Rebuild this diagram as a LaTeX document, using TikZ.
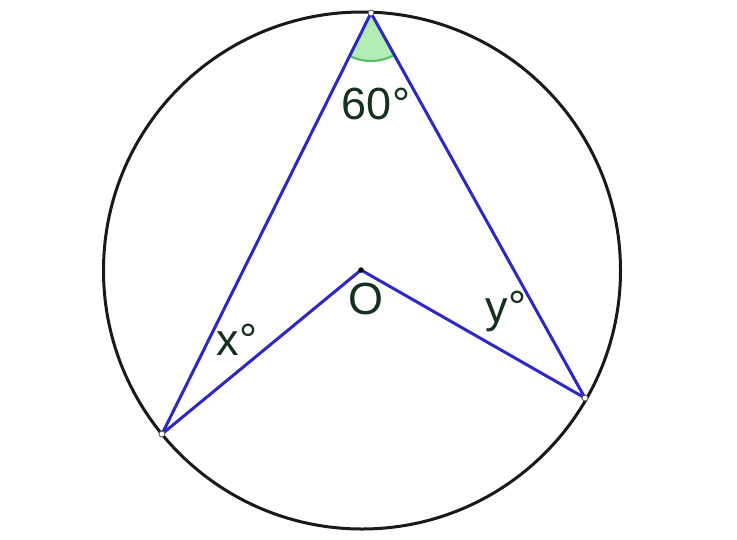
\documentclass[tikz,border=0pt]{standalone}
\usepackage{fontspec}
\setmainfont{Liberation Sans}
\definecolor{lineblue}{RGB}{45,40,195}
\definecolor{txtcol}{RGB}{22,48,30}
\definecolor{angfill}{RGB}{178,236,180}
\definecolor{angline}{RGB}{90,190,100}
\begin{document}
\begin{tikzpicture}[x=1pt,y=-1pt,
  seg/.style={draw=lineblue,line width=3pt},
  lbl/.style={text=txtcol,font=\fontsize{45}{50}\selectfont,inner sep=0pt},
  ptw/.style={circle,draw=black!70,fill=white,line width=0.8pt,inner sep=0pt,minimum size=6pt},
  ptb/.style={circle,fill=black,inner sep=0pt,minimum size=6pt}]
\fill[white] (0,0) rectangle (737,539);
\useasboundingbox (0,0) rectangle (737,539);
\coordinate (Z) at (362,270.5);
\coordinate (A) at (371,13);
\coordinate (B) at (162,434);
\coordinate (C) at (585,398);
\coordinate (O) at (361,270);
% angle at A
\fill[angfill] (A) -- ++(116.4:48) arc[start angle=116.4,end angle=60.9,radius=48] -- cycle;
\draw[angline,line width=2.2pt] (A) ++(116.4:48) arc[start angle=116.4,end angle=60.9,radius=48];
% circle
\draw[black!90,line width=3pt] (Z) circle[radius=258.5];
% segments
\draw[seg,line join=round] (B) -- (A) -- (C);
\draw[seg,line join=round] (B) -- (O) -- (C);
% points
\node[ptw] (pA) at (A) {};
\node[ptw] (pB) at (B) {};
\node[ptw] (pC) at (C) {};
\node[ptb,minimum size=5.5pt] (pO) at (O) {};
% labels
\node[lbl] (l60) at (376,104) {60°};
\node[lbl] (lO) at (366,299) {O};
\node[lbl] (lx) at (237,340) {x°};
\node[lbl] (ly) at (506,311) {y°};
\end{tikzpicture}
\end{document}
